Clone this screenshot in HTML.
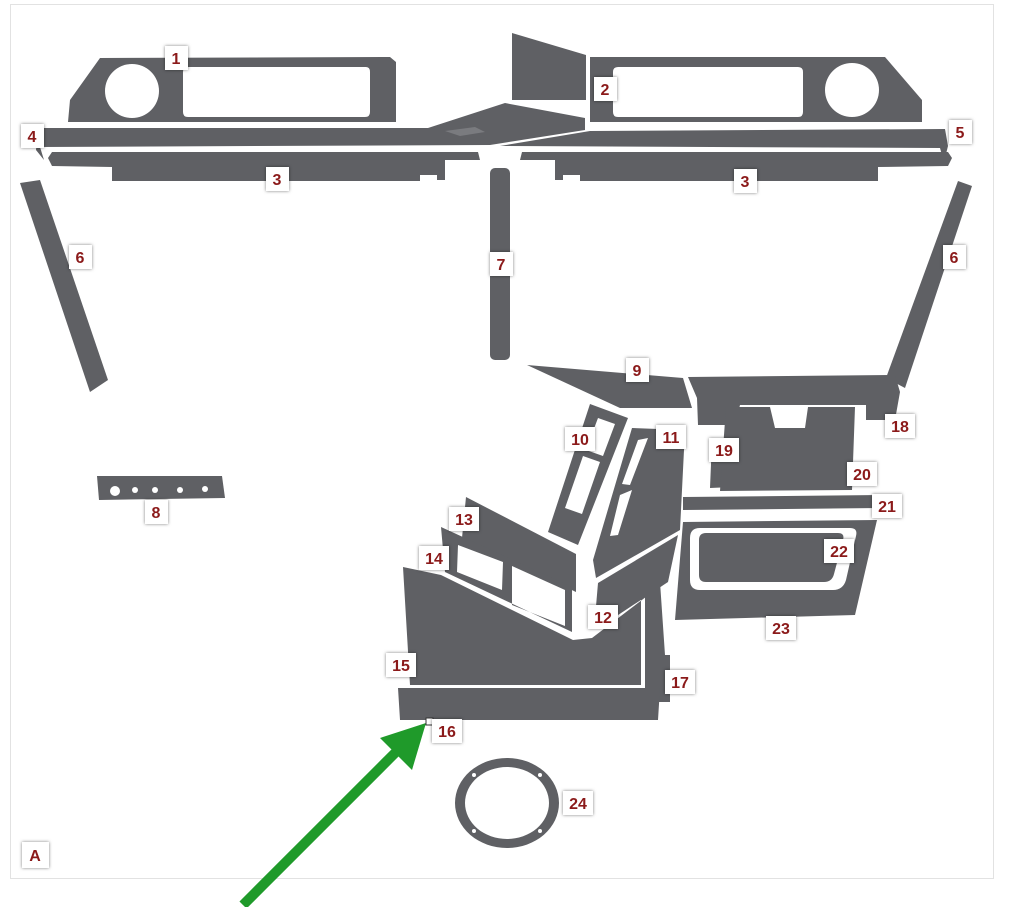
<!DOCTYPE html>
<html><head><style>
body{margin:0;background:#fff;}
svg{display:block;}
.l rect{fill:#fff;filter:drop-shadow(0 0 1.5px rgba(0,0,0,.5));}
.l text{font-family:"Liberation Sans",sans-serif;font-weight:bold;font-size:16px;fill:#8b1a1a;text-anchor:middle;}
</style></head><body>
<svg width="1024" height="907" viewBox="0 0 1024 907">
<rect x="10.5" y="4.5" width="983" height="874" fill="#fff" stroke="#e2e2e2"/>
<g fill="#5f6064">
<path fill-rule="evenodd" d="M100 58 L390 57 L396 62 L396 122 L68 122 L70 100 Z M159 91 A27 27 0 1 0 105 91 A27 27 0 1 0 159 91 Z M188 67 L366 67 Q370 67 370 72 L370 112 Q370 117 365 117 L188 117 Q183 117 183 112 L183 72 Q183 67 188 67 Z"/>
<path fill-rule="evenodd" d="M590 57 L885 57 L922 100 L922 122 L590 122 Z M879 90 A27 27 0 1 0 825 90 A27 27 0 1 0 879 90 Z M618 67 L798 67 Q803 67 803 72 L803 112 Q803 117 798 117 L618 117 Q613 117 613 112 L613 72 Q613 67 618 67 Z"/>
<polygon points="512,33 586,55 586,100 512,100"/>
<polygon points="38,128 428,128 505,103 585,118 585,130 490,145 40,147 44,160 36,150"/>
<polygon points="500,146 590,131 945,129 948,146 944,162 940,148"/>
<polygon points="445,131 475,127 485,132 460,136" fill="#7a7b7f"/>
<polygon points="52,152 478,152 480,160 445,160 445,180 437,180 437,175 420,175 420,181 112,181 112,167 52,166 48,158"/>
<polygon points="948,152 522,152 520,160 555,160 555,180 563,180 563,175 580,175 580,181 878,181 878,167 948,166 952,158"/>
<polygon points="20,183 40,180 108,380 90,392"/>
<polygon points="958,181 972,186 905,388 886,378"/>
<rect x="490" y="168" width="20" height="192" rx="5"/>
<polygon points="527,365 683,378 692,408 620,408"/>
<polygon points="688,377 895,375 900,392 895,420 866,420 866,405 740,405 735,425 698,425 697,398"/>
<path fill-rule="evenodd" d="M590 404 L628 418 L578 545 L548 532 Z M598 418 L615 424 L603 456 L586 450 Z M583 456 L600 462 L582 514 L565 508 Z"/>
<path fill-rule="evenodd" d="M632 428 L685 430 L680 530 L596 578 L593 560 Z M638 440 L648 438 L630 485 L622 484 Z M620 495 L632 490 L618 535 L610 536 Z"/>
<polygon points="598,583 678,535 668,582 603,625 595,618"/>
<polygon points="466,497 576,554 576,592 462,538"/>
<path fill-rule="evenodd" d="M441 527 L572 587 L572 632 L445 572 Z M458 545 L503 562 L502 590 L457 572 Z M512 566 L565 590 L565 626 L512 605 Z"/>
<polygon points="403,567 441,575 573,640 592,638 655,590 641,596 641,685 410,685"/>
<polygon points="645,595 660,582 665,655 670,655 670,702 645,702"/>
<polygon points="398,688 660,688 658,720 400,720"/>
<polygon points="712,440 735,440 733,487 710,488"/>
<polygon points="726,407 770,407 775,428 805,428 808,407 855,407 852,490 720,491"/>
<polygon points="683,497 880,495 880,508 683,510"/>
<polygon points="683,522 877,520 855,615 675,620"/>
<path d="M700 528 L850 528 Q858 528 856 536 L846 580 Q843 590 833 590 L700 590 Q690 590 690 580 L690 538 Q690 528 700 528 Z" fill="#fff"/>
<path d="M706 533 L838 533 Q845 533 843 540 L834 574 Q832 582 824 582 L706 582 Q699 582 699 575 L699 540 Q699 533 706 533 Z"/>
<polygon points="97,476 222,476 225,498 99,500"/>
<path fill-rule="evenodd" d="M559 803 A52 45 0 1 0 455 803 A52 45 0 1 0 559 803 Z M549 803 A42 36 0 1 0 465 803 A42 36 0 1 0 549 803 Z"/>
</g>
<g fill="#fff">
<circle cx="115" cy="491" r="5"/><circle cx="135" cy="490" r="3"/><circle cx="155" cy="490" r="3"/><circle cx="180" cy="490" r="3"/><circle cx="205" cy="489" r="3"/>
<circle cx="474" cy="775" r="2"/><circle cx="540" cy="775" r="2"/><circle cx="474" cy="831" r="2"/><circle cx="540" cy="831" r="2"/>
</g>
<line x1="243" y1="905" x2="398" y2="750" stroke="#1f9a2a" stroke-width="10"/>
<polygon points="426,723 380,738 412,770" fill="#1f9a2a"/>
<rect x="426" y="718" width="7" height="7" fill="#fff" stroke="#333" stroke-width="1"/>
<g class="l">
<rect x="165" y="46" width="23" height="24"/><text x="176" y="64">1</text>
<rect x="594" y="77" width="23" height="24"/><text x="605" y="95">2</text>
<rect x="266" y="167" width="23" height="24"/><text x="277" y="185">3</text>
<rect x="734" y="169" width="23" height="24"/><text x="745" y="187">3</text>
<rect x="21" y="124" width="23" height="24"/><text x="32" y="142">4</text>
<rect x="949" y="120" width="23" height="24"/><text x="960" y="138">5</text>
<rect x="69" y="245" width="23" height="24"/><text x="80" y="263">6</text>
<rect x="943" y="245" width="23" height="24"/><text x="954" y="263">6</text>
<rect x="490" y="252" width="23" height="24"/><text x="501" y="270">7</text>
<rect x="145" y="500" width="23" height="24"/><text x="156" y="518">8</text>
<rect x="626" y="358" width="23" height="24"/><text x="637" y="376">9</text>
<rect x="565" y="427" width="30" height="24"/><text x="580" y="445">10</text>
<rect x="656" y="425" width="30" height="24"/><text x="671" y="443">11</text>
<rect x="588" y="605" width="30" height="24"/><text x="603" y="623">12</text>
<rect x="449" y="507" width="30" height="24"/><text x="464" y="525">13</text>
<rect x="419" y="546" width="30" height="24"/><text x="434" y="564">14</text>
<rect x="386" y="653" width="30" height="24"/><text x="401" y="671">15</text>
<rect x="432" y="719" width="30" height="24"/><text x="447" y="737">16</text>
<rect x="665" y="670" width="30" height="24"/><text x="680" y="688">17</text>
<rect x="885" y="414" width="30" height="24"/><text x="900" y="432">18</text>
<rect x="709" y="438" width="30" height="24"/><text x="724" y="456">19</text>
<rect x="847" y="462" width="30" height="24"/><text x="862" y="480">20</text>
<rect x="872" y="494" width="30" height="24"/><text x="887" y="512">21</text>
<rect x="824" y="539" width="30" height="24"/><text x="839" y="557">22</text>
<rect x="766" y="616" width="30" height="24"/><text x="781" y="634">23</text>
<rect x="563" y="791" width="30" height="24"/><text x="578" y="809">24</text>
<rect x="22" y="842" width="27" height="26"/><text x="35" y="861">A</text>
</g>
</svg>
</body></html>
